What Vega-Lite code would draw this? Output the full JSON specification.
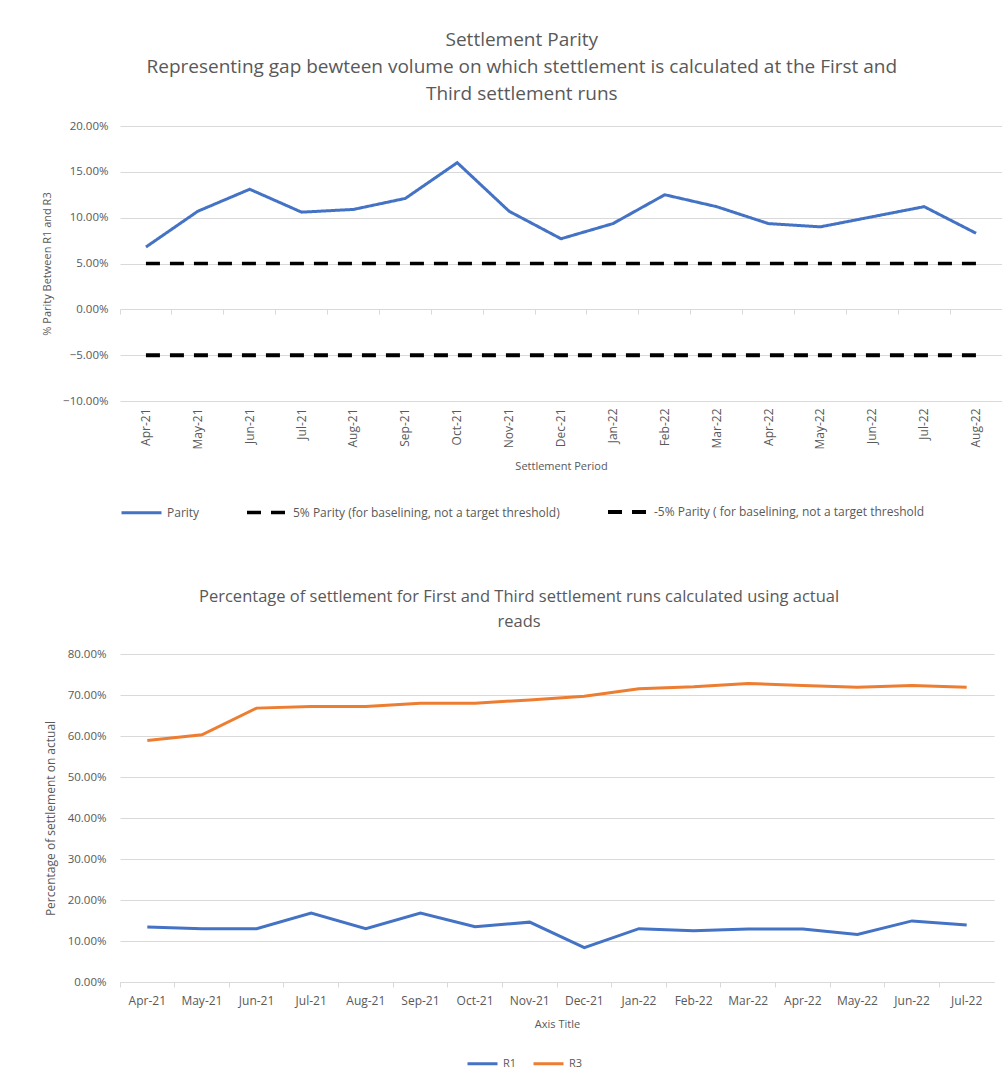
{
  "$schema": "https://vega.github.io/schema/vega-lite/v6.json",
  "background": "white",
  "padding": {"left": 41, "top": 31, "right": 0, "bottom": 0},
  "spacing": 68,
  "config": {
    "view": {"stroke": null},
    "font": "Open Sans",
    "axis": {
      "labelColor": "#595959", "titleColor": "#595959",
      "labelFont": "Open Sans", "titleFont": "Open Sans",
      "titleFontWeight": "normal", "gridColor": "#D9D9D9", "domainColor": "#D9D9D9", "tickColor": "#D9D9D9",
      "labelFontSize": 11.5, "titleFontSize": 11
    },
    "legend": {
      "labelColor": "#595959", "labelFont": "Open Sans", "labelFontSize": 12, "labelLimit": 0,
      "symbolType": "stroke", "symbolStrokeWidth": 3.5
    },
    "title": {"color": "#595959", "fontWeight": "normal", "anchor": "middle", "frame": "bounds"}
  },
  "datasets": {
    "parity": [
      {"month": "Apr-21", "series": "Parity", "value": 0.068},
      {"month": "May-21", "series": "Parity", "value": 0.107},
      {"month": "Jun-21", "series": "Parity", "value": 0.131},
      {"month": "Jul-21", "series": "Parity", "value": 0.106},
      {"month": "Aug-21", "series": "Parity", "value": 0.109},
      {"month": "Sep-21", "series": "Parity", "value": 0.121},
      {"month": "Oct-21", "series": "Parity", "value": 0.160},
      {"month": "Nov-21", "series": "Parity", "value": 0.107},
      {"month": "Dec-21", "series": "Parity", "value": 0.077},
      {"month": "Jan-22", "series": "Parity", "value": 0.0935},
      {"month": "Feb-22", "series": "Parity", "value": 0.125},
      {"month": "Mar-22", "series": "Parity", "value": 0.112},
      {"month": "Apr-22", "series": "Parity", "value": 0.0935},
      {"month": "May-22", "series": "Parity", "value": 0.090},
      {"month": "Jun-22", "series": "Parity", "value": 0.101},
      {"month": "Jul-22", "series": "Parity", "value": 0.112},
      {"month": "Aug-22", "series": "Parity", "value": 0.083},
      {"month": "Apr-21", "series": "5% Parity (for baselining, not a target threshold)", "value": 0.05},
      {"month": "May-21", "series": "5% Parity (for baselining, not a target threshold)", "value": 0.05},
      {"month": "Jun-21", "series": "5% Parity (for baselining, not a target threshold)", "value": 0.05},
      {"month": "Jul-21", "series": "5% Parity (for baselining, not a target threshold)", "value": 0.05},
      {"month": "Aug-21", "series": "5% Parity (for baselining, not a target threshold)", "value": 0.05},
      {"month": "Sep-21", "series": "5% Parity (for baselining, not a target threshold)", "value": 0.05},
      {"month": "Oct-21", "series": "5% Parity (for baselining, not a target threshold)", "value": 0.05},
      {"month": "Nov-21", "series": "5% Parity (for baselining, not a target threshold)", "value": 0.05},
      {"month": "Dec-21", "series": "5% Parity (for baselining, not a target threshold)", "value": 0.05},
      {"month": "Jan-22", "series": "5% Parity (for baselining, not a target threshold)", "value": 0.05},
      {"month": "Feb-22", "series": "5% Parity (for baselining, not a target threshold)", "value": 0.05},
      {"month": "Mar-22", "series": "5% Parity (for baselining, not a target threshold)", "value": 0.05},
      {"month": "Apr-22", "series": "5% Parity (for baselining, not a target threshold)", "value": 0.05},
      {"month": "May-22", "series": "5% Parity (for baselining, not a target threshold)", "value": 0.05},
      {"month": "Jun-22", "series": "5% Parity (for baselining, not a target threshold)", "value": 0.05},
      {"month": "Jul-22", "series": "5% Parity (for baselining, not a target threshold)", "value": 0.05},
      {"month": "Aug-22", "series": "5% Parity (for baselining, not a target threshold)", "value": 0.05},
      {"month": "Apr-21", "series": "-5% Parity ( for baselining, not a target threshold", "value": -0.05},
      {"month": "May-21", "series": "-5% Parity ( for baselining, not a target threshold", "value": -0.05},
      {"month": "Jun-21", "series": "-5% Parity ( for baselining, not a target threshold", "value": -0.05},
      {"month": "Jul-21", "series": "-5% Parity ( for baselining, not a target threshold", "value": -0.05},
      {"month": "Aug-21", "series": "-5% Parity ( for baselining, not a target threshold", "value": -0.05},
      {"month": "Sep-21", "series": "-5% Parity ( for baselining, not a target threshold", "value": -0.05},
      {"month": "Oct-21", "series": "-5% Parity ( for baselining, not a target threshold", "value": -0.05},
      {"month": "Nov-21", "series": "-5% Parity ( for baselining, not a target threshold", "value": -0.05},
      {"month": "Dec-21", "series": "-5% Parity ( for baselining, not a target threshold", "value": -0.05},
      {"month": "Jan-22", "series": "-5% Parity ( for baselining, not a target threshold", "value": -0.05},
      {"month": "Feb-22", "series": "-5% Parity ( for baselining, not a target threshold", "value": -0.05},
      {"month": "Mar-22", "series": "-5% Parity ( for baselining, not a target threshold", "value": -0.05},
      {"month": "Apr-22", "series": "-5% Parity ( for baselining, not a target threshold", "value": -0.05},
      {"month": "May-22", "series": "-5% Parity ( for baselining, not a target threshold", "value": -0.05},
      {"month": "Jun-22", "series": "-5% Parity ( for baselining, not a target threshold", "value": -0.05},
      {"month": "Jul-22", "series": "-5% Parity ( for baselining, not a target threshold", "value": -0.05},
      {"month": "Aug-22", "series": "-5% Parity ( for baselining, not a target threshold", "value": -0.05}
    ],
    "runs": [
      {"month": "Apr-21", "series": "R1", "value": 0.134},
      {"month": "May-21", "series": "R1", "value": 0.130},
      {"month": "Jun-21", "series": "R1", "value": 0.130},
      {"month": "Jul-21", "series": "R1", "value": 0.168},
      {"month": "Aug-21", "series": "R1", "value": 0.130},
      {"month": "Sep-21", "series": "R1", "value": 0.168},
      {"month": "Oct-21", "series": "R1", "value": 0.135},
      {"month": "Nov-21", "series": "R1", "value": 0.146},
      {"month": "Dec-21", "series": "R1", "value": 0.084},
      {"month": "Jan-22", "series": "R1", "value": 0.130},
      {"month": "Feb-22", "series": "R1", "value": 0.125},
      {"month": "Mar-22", "series": "R1", "value": 0.129},
      {"month": "Apr-22", "series": "R1", "value": 0.129},
      {"month": "May-22", "series": "R1", "value": 0.116},
      {"month": "Jun-22", "series": "R1", "value": 0.149},
      {"month": "Jul-22", "series": "R1", "value": 0.139},
      {"month": "Apr-21", "series": "R3", "value": 0.589},
      {"month": "May-21", "series": "R3", "value": 0.603},
      {"month": "Jun-21", "series": "R3", "value": 0.668},
      {"month": "Jul-21", "series": "R3", "value": 0.672},
      {"month": "Aug-21", "series": "R3", "value": 0.672},
      {"month": "Sep-21", "series": "R3", "value": 0.680},
      {"month": "Oct-21", "series": "R3", "value": 0.680},
      {"month": "Nov-21", "series": "R3", "value": 0.688},
      {"month": "Dec-21", "series": "R3", "value": 0.697},
      {"month": "Jan-22", "series": "R3", "value": 0.715},
      {"month": "Feb-22", "series": "R3", "value": 0.720},
      {"month": "Mar-22", "series": "R3", "value": 0.728},
      {"month": "Apr-22", "series": "R3", "value": 0.723},
      {"month": "May-22", "series": "R3", "value": 0.719},
      {"month": "Jun-22", "series": "R3", "value": 0.723},
      {"month": "Jul-22", "series": "R3", "value": 0.719}
    ]
  },
  "resolve": {
    "scale": {"color": "independent", "strokeDash": "independent", "strokeWidth": "independent", "x": "independent", "y": "independent"},
    "legend": {"color": "independent", "strokeDash": "independent"}
  },
  "vconcat": [
    {
      "width": 882,
      "height": 275,
      "title": {
        "text": ["Settlement Parity", "Representing gap bewteen volume on which stettlement is calculated at the First and", "Third settlement runs"],
        "fontSize": 19, "lineHeight": 27, "offset": 16
      },
      "data": {"name": "parity"},
      "layer": [
        {
          "mark": {"type": "line", "strokeCap": "butt"},
          "encoding": {
            "x": {
              "field": "month", "type": "ordinal",
              "scale": {"type": "band", "paddingInner": 0, "paddingOuter": 0,
                "domain": ["Apr-21","May-21","Jun-21","Jul-21","Aug-21","Sep-21","Oct-21","Nov-21","Dec-21","Jan-22","Feb-22","Mar-22","Apr-22","May-22","Jun-22","Jul-22","Aug-22"]},
              "axis": {"orient": "bottom", "title": "Settlement Period", "labelAngle": -90, "ticks": false, "domain": false, "grid": false, "labelPadding": 7, "labelFontSize": 12, "titlePadding": 11}
            },
            "y": {
              "field": "value", "type": "quantitative",
              "scale": {"domain": [-0.1, 0.2], "nice": false},
              "axis": {"title": "% Parity Between R1 and R3", "format": ".2%", "values": [-0.1, -0.05, 0, 0.05, 0.1, 0.15, 0.2], "domain": false, "ticks": false, "labelPadding": 12, "titlePadding": 10}
            },
            "color": {
              "field": "series", "type": "nominal",
              "scale": {"domain": ["Parity", "5% Parity (for baselining, not a target threshold)", "-5% Parity ( for baselining, not a target threshold"], "range": ["#4472C4", "#000000", "#000000"]},
              "legend": {"title": null, "orient": "bottom", "direction": "horizontal", "symbolSize": 1600, "columnPadding": 40, "offset": 18}
            },
            "strokeDash": {
              "field": "series", "type": "nominal",
              "scale": {"domain": ["Parity", "5% Parity (for baselining, not a target threshold)", "-5% Parity ( for baselining, not a target threshold"], "range": [[1, 0], [14, 10], [14, 10]]},
              "legend": {"title": null, "orient": "bottom", "direction": "horizontal", "symbolSize": 1600, "columnPadding": 40, "offset": 18}
            },
            "strokeWidth": {
              "field": "series", "type": "ordinal",
              "scale": {"domain": ["Parity", "5% Parity (for baselining, not a target threshold)", "-5% Parity ( for baselining, not a target threshold"], "range": [3, 4, 4]},
              "legend": null
            }
          }
        },
        {
          "mark": {"type": "tick", "opacity": 0},
          "encoding": {
            "x": {"field": "month", "type": "ordinal",
              "axis": {"orient": "top", "bandPosition": 0, "labels": false, "title": null, "domain": false, "ticks": true, "tickSize": -5, "offset": -183, "grid": false}}
          }
        }
      ]
    },
    {
      "width": 874,
      "height": 328,
      "title": {
        "text": ["Percentage of settlement for First and Third settlement runs calculated using actual", "reads"],
        "fontSize": 16.5, "lineHeight": 25, "font": "Open Sans", "offset": 18
      },
      "data": {"name": "runs"},
      "layer": [
        {
          "mark": {"type": "line", "strokeWidth": 3},
          "encoding": {
            "x": {
              "field": "month", "type": "ordinal",
              "scale": {"type": "band", "paddingInner": 0, "paddingOuter": 0,
                "domain": ["Apr-21","May-21","Jun-21","Jul-21","Aug-21","Sep-21","Oct-21","Nov-21","Dec-21","Jan-22","Feb-22","Mar-22","Apr-22","May-22","Jun-22","Jul-22"]},
              "axis": {"orient": "bottom", "title": "Axis Title", "labelAngle": 0, "ticks": false, "domain": true, "grid": false, "labelPadding": 13, "labelFontSize": 12, "titlePadding": 12}
            },
            "y": {
              "field": "value", "type": "quantitative",
              "scale": {"domain": [0, 0.8], "nice": false},
              "axis": {"title": "Percentage of settlement on actual", "format": ".2%", "values": [0, 0.1, 0.2, 0.3, 0.4, 0.5, 0.6, 0.7, 0.8], "domain": false, "ticks": false, "labelPadding": 14, "titlePadding": 10, "titleFontSize": 12}
            },
            "color": {
              "field": "series", "type": "nominal",
              "scale": {"domain": ["R1", "R3"], "range": ["#4472C4", "#ED7D31"]},
              "legend": {"title": null, "orient": "none", "direction": "horizontal", "legendX": 346, "legendY": 393, "symbolSize": 900, "columnPadding": 10, "symbolStrokeWidth": 3, "labelFontSize": 11}
            }
          }
        },
        {
          "mark": {"type": "tick", "opacity": 0},
          "encoding": {
            "x": {"field": "month", "type": "ordinal",
              "axis": {"orient": "top", "bandPosition": 0, "labels": false, "title": null, "domain": false, "ticks": true, "tickSize": -5, "offset": -328, "grid": false}}
          }
        }
      ]
    }
  ]
}
